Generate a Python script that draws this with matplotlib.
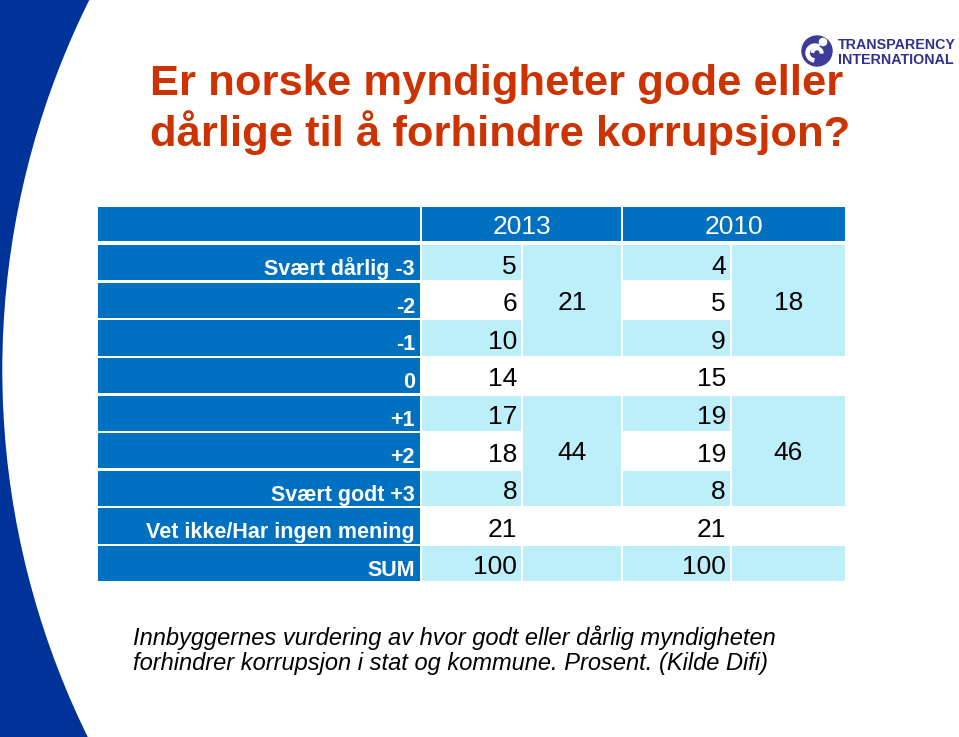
import matplotlib
matplotlib.use("Agg")
import matplotlib.pyplot as plt
from matplotlib.patches import Rectangle, Circle, Wedge

plt.rcParams['font.family'] = ['Liberation Sans', 'DejaVu Sans']

# --- data ---
title = "Er norske myndigheter gode eller\ndårlige til å forhindre korrupsjon?"
caption = ("Innbyggernes vurdering av hvor godt eller dårlig myndigheten\n"
           "forhindrer korrupsjon i stat og kommune. Prosent. (Kilde Difi)")
years = ["2013", "2010"]
row_labels = ["Svært dårlig -3", "-2", "-1", "0", "+1", "+2",
              "Svært godt +3", "Vet ikke/Har ingen mening", "SUM"]
vals_2013 = [5, 6, 10, 14, 17, 18, 8, 21, 100]
vals_2010 = [4, 5, 9, 15, 19, 19, 8, 21, 100]
# grouped sums: (first row, last row) -> value
groups = [(0, 2), (4, 6)]
group_2013 = [21, 44]
group_2010 = [18, 46]

# --- colours / layout ---
dark = '#0070C0'
light = '#BCEFFA'
edge_blue = '#003399'
title_col = '#CC3300'
ti_col = '#2E3192'

col_edges = [97, 421, 522, 622, 731, 846]
head_top, head_bot = 206, 242
row_top, row_h = 244, 37.6
gap = 1.2

fig = plt.figure(figsize=(9.59, 7.37), dpi=100)
ax = fig.add_axes([0, 0, 1, 1])
ax.set_xlim(0, 959)
ax.set_ylim(737, 0)
ax.axis('off')

# left decoration: blue band cut by a large white circle
ax.add_patch(Rectangle((0, 0), 130, 737, color=edge_blue, zorder=0))
ax.add_patch(Circle((833, 370), 830, color='white', zorder=1))

# title (baseline of last line)
ax.text(150, 146, title, fontsize=31.3, fontweight='bold', color=title_col,
        ha='left', va='baseline', linespacing=1.18, zorder=5)

# logo
ax.add_patch(Circle((817, 51), 15, color='#3D3A99', zorder=5))
ax.add_patch(Circle((823, 42), 3.6, color='white', zorder=6))
ax.add_patch(Wedge((815, 53), 9, 100, 300, width=3.2, color='white', zorder=6))
ax.add_patch(Wedge((817, 53), 6, 190, 360, width=2.6, color='white', zorder=6))
ax.text(838, 49, "TRANSPARENCY", fontsize=10.3, fontweight='bold', color=ti_col,
        ha='left', va='baseline', zorder=6)
ax.text(838, 64, "INTERNATIONAL", fontsize=10.3, fontweight='bold', color=ti_col,
        ha='left', va='baseline', zorder=6)


def cell(x0, x1, y0, y1, color):
    ax.add_patch(Rectangle((x0 + gap, y0 + gap), x1 - x0 - 2 * gap, y1 - y0 - 2 * gap,
                           color=color, lw=0, zorder=3))


# header row
cell(col_edges[0], col_edges[1], head_top, head_bot, dark)
for k, yr in enumerate(years):
    xa, xb = col_edges[1 + 2 * k], col_edges[3 + 2 * k]
    cell(xa, xb, head_top, head_bot, dark)
    ax.text((xa + xb) / 2, head_bot - 8, yr, fontsize=19, color='white',
            ha='center', va='baseline', zorder=5)

n = len(row_labels)
in_group = {}
for g, (a, b) in enumerate(groups):
    for r in range(a, b + 1):
        in_group[r] = g

for r in range(n):
    y0 = row_top + r * row_h
    y1 = y0 + row_h
    shade = light if r % 2 == 0 else 'white'
    cell(col_edges[0], col_edges[1], y0, y1, dark)
    ax.text(col_edges[1] - 6, y1 - 6.5, row_labels[r], fontsize=15.5, fontweight='bold',
            color='white', ha='right', va='baseline', zorder=5)
    for k, vals in enumerate([vals_2013, vals_2010]):
        xa, xb, xc = col_edges[1 + 2 * k], col_edges[2 + 2 * k], col_edges[3 + 2 * k]
        cell(xa, xb, y0, y1, shade)
        ax.text(xb - 5, y1 - 8, str(vals[r]), fontsize=19, color='black',
                ha='right', va='baseline', zorder=5)
        if r not in in_group:
            cell(xb, xc, y0, y1, shade)

# merged group cells
for g, (a, b) in enumerate(groups):
    y0 = row_top + a * row_h
    y1 = row_top + (b + 1) * row_h
    for k, gv in enumerate([group_2013, group_2010]):
        xb, xc = col_edges[2 + 2 * k], col_edges[3 + 2 * k]
        cell(xb, xc, y0, y1, light)
        ax.text((xb + xc) / 2, (y0 + y1) / 2 + 9.5, str(gv[g]), fontsize=19,
                color='black', ha='center', va='baseline', zorder=5)

# caption (baseline of last line)
ax.text(133, 670, caption, fontsize=17, style='italic', color='black',
        ha='left', va='baseline', linespacing=1.1, zorder=5)

fig.savefig("out.png", dpi=100)
